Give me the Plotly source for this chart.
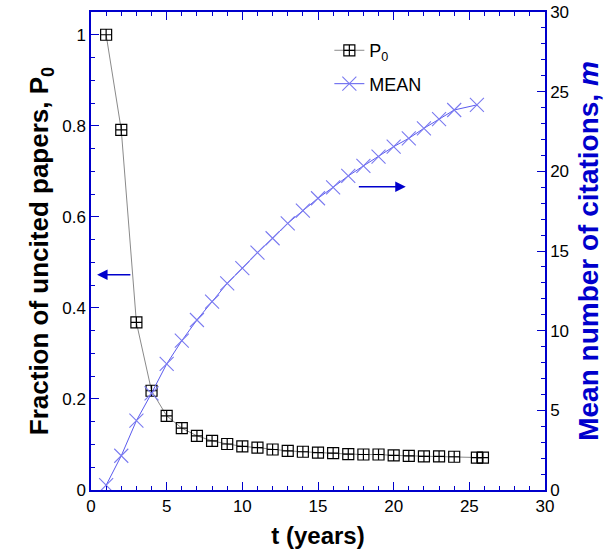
import plotly.graph_objects as go

t_p0 = [1, 2, 3, 4, 5, 6, 7, 8, 9, 10, 11, 12, 13, 14, 15, 16, 17, 18, 19, 20, 21, 22, 23, 24, 25.5, 25.9]
p0 = [1.0, 0.791, 0.368, 0.218, 0.163, 0.136, 0.119, 0.108, 0.101, 0.096, 0.093, 0.089, 0.086, 0.084,
      0.082, 0.081, 0.079, 0.078, 0.078, 0.076, 0.075, 0.074, 0.074, 0.073, 0.071, 0.071]

t_mean = [1, 2, 3, 4, 5, 6, 7, 8, 9, 10, 11, 12, 13, 14, 15, 16, 17, 18, 19, 20, 21, 22, 23, 24, 25.5]
mean = [0.3, 2.15, 4.35, 6.07, 7.91, 9.37, 10.67, 11.82, 12.97, 13.92, 14.9, 15.8, 16.74, 17.53,
        18.31, 19.0, 19.71, 20.34, 20.92, 21.55, 22.07, 22.7, 23.27, 23.85, 24.17]

BLUE = "#0000cc"
FONT = "Liberation Sans, Arial, Helvetica, sans-serif"

fig = go.Figure()
fig.add_trace(go.Scatter(
    x=t_p0, y=p0, name="P<sub>0</sub>", mode="lines+markers", legendgroup="a",
    line=dict(color="#8a8a8a", width=1),
    marker=dict(symbol="square-cross-open", size=11, color="black", line=dict(width=1.2, color="black")),
))
fig.add_trace(go.Scatter(
    x=t_mean, y=mean, name="MEAN", mode="lines+markers", yaxis="y2", legendgroup="b",
    line=dict(color="#5a5aee", width=1),
    marker=dict(symbol="x-thin-open", size=14, color="#7a7af0", line=dict(width=1.1, color="#7a7af0")),
))

tickfont = dict(family=FONT, size=17, color="black")
fig.update_layout(
    width=616, height=555,
    margin=dict(l=91, r=71, t=12, b=65),
    paper_bgcolor="white", plot_bgcolor="white",
    font=dict(family=FONT, size=17, color="black"),
    showlegend=True,
    legend=dict(x=0.525, y=0.958, xanchor="left", yanchor="top", bgcolor="rgba(0,0,0,0)",
                font=dict(family=FONT, size=18), traceorder="grouped", tracegroupgap=7),
    xaxis=dict(
        range=[0, 30], dtick=5, tick0=0, showgrid=False, zeroline=False, automargin=False,
        showline=True, linecolor=BLUE, linewidth=1.5, mirror="ticks",
        ticks="inside", ticklen=8, tickcolor=BLUE, tickwidth=1.2,
        minor=dict(dtick=1, ticks="inside", ticklen=4, tickcolor=BLUE, tickwidth=1),
        tickfont=tickfont,
        title=dict(text="<b>t (years)</b>", font=dict(family=FONT, size=24, color="black"), standoff=12),
    ),
    yaxis=dict(
        range=[0, 1.05], dtick=0.2, tick0=0, showgrid=False, zeroline=False, automargin=False,
        showline=True, linecolor=BLUE, linewidth=1.5,
        ticks="inside", ticklen=8, tickcolor=BLUE, tickwidth=1.2,
        minor=dict(dtick=0.05, ticks="inside", ticklen=4, tickcolor=BLUE, tickwidth=1),
        tickfont=tickfont,
        title=dict(text="<b>Fraction of uncited papers, P<sub>0</sub></b>",
                   font=dict(family=FONT, size=26, color="black"), standoff=6),
    ),
    yaxis2=dict(
        range=[0, 30], dtick=5, tick0=0, overlaying="y", side="right", automargin=False,
        showgrid=False, zeroline=False,
        showline=True, linecolor=BLUE, linewidth=1.5,
        ticks="inside", ticklen=8, tickcolor=BLUE, tickwidth=1.2,
        minor=dict(dtick=1, ticks="inside", ticklen=4, tickcolor=BLUE, tickwidth=1),
        tickfont=tickfont,
        title=dict(text="<b>Mean number of citations, <i>m</i></b>",
                   font=dict(family=FONT, size=28, color=BLUE), standoff=10),
    ),
)

fig.add_annotation(x=0.4, y=0.473, ax=2.7, ay=0.473, xref="x", yref="y", axref="x", ayref="y",
                   showarrow=True, arrowhead=2, arrowsize=1.4, arrowwidth=1.5, arrowcolor=BLUE, text="")
fig.add_annotation(x=20.8, y=19.04, ax=17.6, ay=19.04, xref="x", yref="y2", axref="x", ayref="y2",
                   showarrow=True, arrowhead=2, arrowsize=1.4, arrowwidth=1.5, arrowcolor=BLUE, text="")

fig.write_html("out.html", config={"displayModeBar": False},
               post_script="document.body.style.margin='0';document.body.style.padding='0';")
